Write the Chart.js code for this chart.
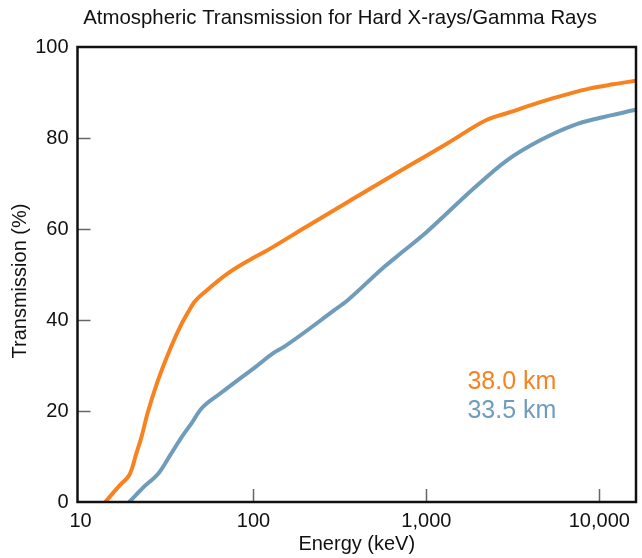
<!DOCTYPE html>
<html>
<head>
<meta charset="utf-8">
<script src="https://cdn.jsdelivr.net/npm/chart.js@4/dist/chart.umd.min.js"></script>
<style>
  html, body { margin:0; padding:0; background:#fff; }
  #wrap { width:642px; height:558px; }
</style>
</head>
<body>
<div id="wrap"><canvas id="c" width="642" height="558"></canvas></div>
<script>
// 38.0 km curve
const energy38 = [13.9, 17, 18.6, 19.3, 20, 20.8, 22.4, 24.4, 27.9, 33.3, 38, 42, 45.4, 54, 70.8, 96, 120, 200, 364, 700, 1000, 1374, 2240, 3000, 4550, 6500, 8830, 12000, 16300];
const trans38  = [0, 3.8, 5.3, 6.2, 7.8, 10.1, 14, 19.5, 26.5, 34, 38.8, 41.8, 43.9, 46.6, 50.2, 53.3, 55.3, 60.4, 66.3, 72.7, 76.1, 79.2, 84.0, 85.6, 87.9, 89.6, 90.9, 91.8, 92.6];
// 33.5 km curve
const energy33 = [19.1, 21, 22.9, 28.5, 33, 38, 44, 49.6, 65, 84.5, 103, 130, 150, 292, 349, 567, 708, 1000, 1875, 2924, 4550, 7080, 10000, 16300];
const trans33  = [0, 1.6, 3.1, 6.5, 10.3, 14.0, 17.4, 20.4, 24.0, 27.3, 29.7, 32.7, 34.1, 42.1, 44.3, 51.6, 54.6, 59.3, 68.9, 75.1, 79.5, 82.8, 84.4, 86.2];

const xTicks = [10, 100, 1000, 10000];
const yTicks = [0, 20, 40, 60, 80, 100];
const innerXTicks = [100, 1000, 10000];
const innerYTicks = [20, 40, 60, 80];

const seriesLabels = [
  { text:'38.0 km', color:'#f7821f', x:1726, y:26.4 },
  { text:'33.5 km', color:'#6f9cbb', x:1726, y:20.0 },
];

const FONT = '"Liberation Sans", Arial, Helvetica, sans-serif';
const ORANGE = '#f7821f', BLUE = '#6f9cbb';

const toPts = (xs, ys) => xs.map((x, i) => ({ x, y: ys[i] }));

const decor = {
  id: 'decor',
  afterDatasetsDraw(chart) {
    const { ctx, chartArea: a, scales: { x, y } } = chart;
    ctx.save();
    // inward ticks
    ctx.strokeStyle = '#666'; ctx.lineWidth = 1.5;
    innerYTicks.forEach(v => {
      const py = Math.round(y.getPixelForValue(v)) + 0.5;
      ctx.beginPath(); ctx.moveTo(a.left, py); ctx.lineTo(a.left + 13, py); ctx.stroke();
    });
    innerXTicks.forEach(v => {
      const px = Math.round(x.getPixelForValue(v)) + 0.5;
      ctx.beginPath(); ctx.moveTo(px, a.bottom); ctx.lineTo(px, a.bottom - 13); ctx.stroke();
    });
    // frame
    ctx.strokeStyle = '#111'; ctx.lineWidth = 2.5;
    ctx.strokeRect(a.left, a.top, a.right - a.left, a.bottom - a.top);
    // chart title
    ctx.fillStyle = '#111';
    ctx.font = '20.4px ' + FONT;
    ctx.textAlign = 'center'; ctx.textBaseline = 'middle';
    ctx.fillText('Atmospheric Transmission for Hard X-rays/Gamma Rays', 340, 18);
    // y axis title
    ctx.font = '20px ' + FONT;
    ctx.save();
    ctx.translate(20, 281); ctx.rotate(-Math.PI / 2);
    ctx.fillText('Transmission (%)', 0, 0);
    ctx.restore();
    // series labels
    ctx.font = '25px ' + FONT;
    ctx.textAlign = 'left';
    seriesLabels.forEach(l => {
      ctx.fillStyle = l.color;
      ctx.fillText(l.text, x.getPixelForValue(l.x), y.getPixelForValue(l.y));
    });
    ctx.restore();
  }
};

new Chart(document.getElementById('c').getContext('2d'), {
  type: 'line',
  data: {
    datasets: [
      { label:'38.0 km', data: toPts(energy38, trans38), borderColor: ORANGE, borderWidth: 4, pointRadius: 0, cubicInterpolationMode: 'monotone', fill: false },
      { label:'33.5 km', data: toPts(energy33, trans33), borderColor: BLUE, borderWidth: 4, pointRadius: 0, cubicInterpolationMode: 'monotone', fill: false },
    ]
  },
  options: {
    responsive: false,
    animation: false,
    layout: { padding: { top: 47, right: 6, left: 0, bottom: 0 } },
    plugins: { legend: { display:false }, tooltip: { enabled:false }, title: { display:false } },
    scales: {
      x: {
        type: 'logarithmic', min: 9.6, max: 16300,
        afterBuildTicks: s => { s.ticks = xTicks.map(v => ({ value: v })); },
        afterFit: s => { s.height = 56; },
        grid: { display:false, drawTicks:false }, border: { display:false },
        ticks: { color:'#111', font:{ size:20, family:FONT }, padding: 7, maxRotation: 0, autoSkip: false,
                 callback: v => Number(v).toLocaleString('en-US') },
        title: { display:true, text:'Energy (keV)', color:'#111', font:{ size:20, family:FONT }, padding:{ top:0, bottom:2 } },
      },
      y: {
        min: 0, max: 100,
        afterBuildTicks: s => { s.ticks = yTicks.map(v => ({ value: v })); },
        afterFit: s => { s.width = 77.5; },
        grid: { display:false, drawTicks:false }, border: { display:false },
        ticks: { color:'#111', font:{ size:20, family:FONT }, padding: 9 },
      }
    }
  },
  plugins: [decor]
});
</script>
</body>
</html>
